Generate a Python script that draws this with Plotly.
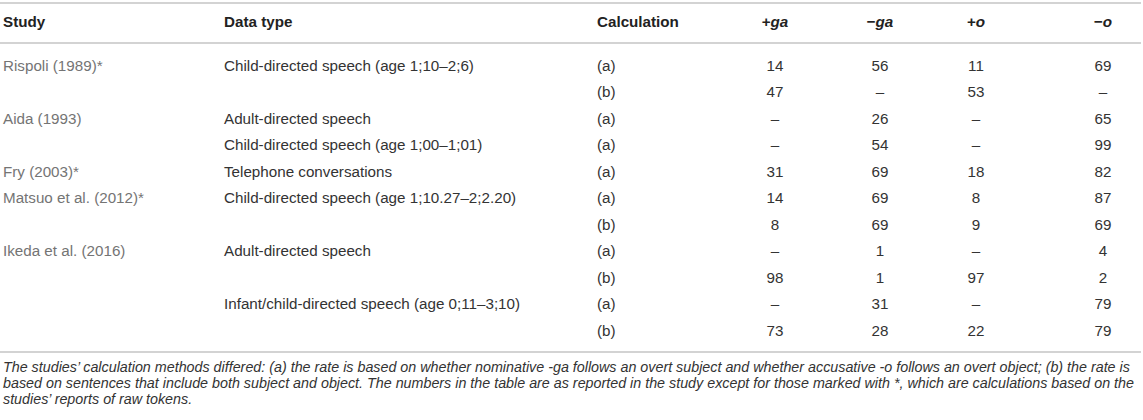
import plotly.graph_objects as go

# ---- data ----
headers = ["Study", "Data type", "Calculation", "+<i>ga</i>", "−<i>ga</i>", "+<i>o</i>", "−<i>o</i>"]
studies = ["Rispoli (1989)*", "", "Aida (1993)", "", "Fry (2003)*", "Matsuo et al. (2012)*", "",
           "Ikeda et al. (2016)", "", "", ""]
data_types = ["Child-directed speech (age 1;10–2;6)", "", "Adult-directed speech",
              "Child-directed speech (age 1;00–1;01)", "Telephone conversations",
              "Child-directed speech (age 1;10.27–2;2.20)", "", "Adult-directed speech", "",
              "Infant/child-directed speech (age 0;11–3;10)", ""]
calculation = ["(a)", "(b)", "(a)", "(a)", "(a)", "(a)", "(b)", "(a)", "(b)", "(a)", "(b)"]
plus_ga = ["14", "47", "–", "–", "31", "14", "8", "–", "98", "–", "73"]
minus_ga = ["56", "–", "26", "54", "69", "69", "69", "1", "1", "31", "28"]
plus_o = ["11", "53", "–", "–", "18", "8", "9", "–", "97", "–", "22"]
minus_o = ["69", "–", "65", "99", "82", "87", "69", "4", "2", "79", "79"]
footnote = [
    "The studies’ calculation methods differed: (a) the rate is based on whether nominative -ga follows an overt subject and whether accusative -o follows an overt object; (b) the rate is",
    "based on sentences that include both subject and object. The numbers in the table are as reported in the study except for those marked with *, which are calculations based on the",
    "studies’ reports of raw tokens.",
]

# ---- layout constants ----
W, H = 1143, 420
FONT = "Liberation Sans"
BODY_SIZE = 15.2
FOOT_SIZE = 14.3
col_x = [3, 224, 597, 775, 880, 976, 1103]
col_align = ["middle right", "middle right", "middle right",
             "middle center", "middle center", "middle center", "middle center"]
header_y = 23
row0_y = 67
row_step = 26.5
foot_y0 = 368
foot_step = 16
line_color = "#c4c4c4"

row_y = [row0_y + i * row_step for i in range(len(calculation))]
columns = [studies, data_types, calculation, plus_ga, minus_ga, plus_o, minus_o]
col_colors = ["#747474", "#333333", "#333333", "#333333", "#333333", "#333333", "#333333"]

fig = go.Figure()

# header
for x, h, pos in zip(col_x, headers, col_align):
    fig.add_trace(go.Scatter(
        x=[x], y=[header_y], mode="text", text=[f"<b>{h}</b>"],
        textposition=pos, textfont=dict(family=FONT, size=BODY_SIZE, color="#222222"),
        hoverinfo="skip", showlegend=False))

# body
for x, vals, pos, c in zip(col_x, columns, col_align, col_colors):
    fig.add_trace(go.Scatter(
        x=[x] * len(vals), y=row_y, mode="text", text=vals,
        textposition=pos, textfont=dict(family=FONT, size=BODY_SIZE, color=c),
        hoverinfo="skip", showlegend=False))

# footnote
fig.add_trace(go.Scatter(
    x=[3] * len(footnote), y=[foot_y0 + i * foot_step for i in range(len(footnote))],
    mode="text", text=[f"<i>{t}</i>" for t in footnote], textposition="middle right",
    textfont=dict(family=FONT, size=FOOT_SIZE, color="#333333"),
    hoverinfo="skip", showlegend=False))

for yl in [3, 43, 352]:
    fig.add_shape(type="line", x0=0, x1=1141, y0=yl, y1=yl, xref="x", yref="y",
                  line=dict(color=line_color, width=1.5))

fig.update_layout(
    width=W, height=H, margin=dict(l=0, r=0, t=0, b=0),
    paper_bgcolor="white", plot_bgcolor="white",
    xaxis=dict(range=[0, W], visible=False, fixedrange=True),
    yaxis=dict(range=[H, 0], visible=False, fixedrange=True),
)

fig.write_html("out.html", config={"displayModeBar": False, "staticPlot": True},
               post_script="document.body.style.margin='0';document.body.style.overflow='hidden';")
